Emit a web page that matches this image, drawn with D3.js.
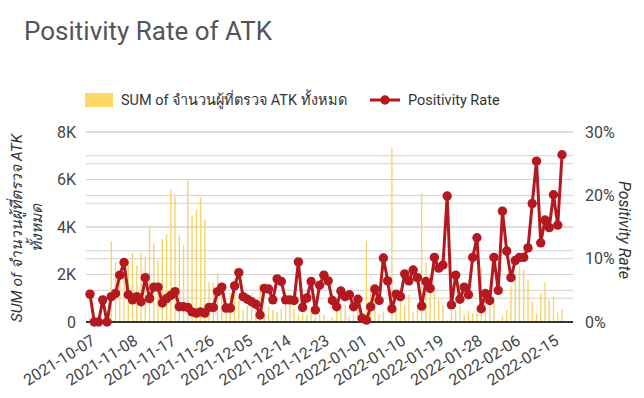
<!DOCTYPE html>
<html><head><meta charset="utf-8">
<script src="https://cdn.jsdelivr.net/npm/d3@7/dist/d3.min.js"></script>
<style>
body{margin:0;background:#fff;}
text{font-family:Roboto,"Noto Sans",sans-serif;}
</style></head>
<body><svg id="c" width="644" height="398"></svg>
<script>
const dates = [
"2021-10-07","2021-10-30","2021-10-31","2021-11-01","2021-11-02","2021-11-03","2021-11-04","2021-11-05","2021-11-06","2021-11-07",
"2021-11-08","2021-11-09","2021-11-10","2021-11-11","2021-11-12","2021-11-13","2021-11-14","2021-11-15","2021-11-16","2021-11-17",
"2021-11-18","2021-11-19","2021-11-20","2021-11-21","2021-11-22","2021-11-23","2021-11-24","2021-11-25","2021-11-26","2021-11-27",
"2021-11-28","2021-11-29","2021-11-30","2021-12-01","2021-12-02","2021-12-03","2021-12-04","2021-12-05","2021-12-06","2021-12-07",
"2021-12-08","2021-12-09","2021-12-10","2021-12-11","2021-12-12","2021-12-13","2021-12-14","2021-12-15","2021-12-16","2021-12-17",
"2021-12-18","2021-12-19","2021-12-20","2021-12-21","2021-12-22","2021-12-23","2021-12-24","2021-12-25","2021-12-26","2021-12-27",
"2021-12-28","2021-12-29","2021-12-30","2021-12-31","2022-01-01","2022-01-02","2022-01-03","2022-01-04","2022-01-05","2022-01-06",
"2022-01-07","2022-01-08","2022-01-09","2022-01-10","2022-01-11","2022-01-12","2022-01-13","2022-01-14","2022-01-15","2022-01-16",
"2022-01-17","2022-01-18","2022-01-19","2022-01-20","2022-01-21","2022-01-22","2022-01-23","2022-01-24","2022-01-25","2022-01-26",
"2022-01-27","2022-01-28","2022-01-29","2022-01-30","2022-01-31","2022-02-01","2022-02-02","2022-02-03","2022-02-04","2022-02-05",
"2022-02-06","2022-02-07","2022-02-08","2022-02-09","2022-02-10","2022-02-11","2022-02-12","2022-02-13","2022-02-14","2022-02-15",
"2022-02-16","2022-02-17"];

const tested = [
150,20,30,100,30,3400,2500,2100,2300,2600,
2900,2400,2900,2750,3950,3300,2600,3500,3700,5600,
5300,3650,3250,5950,4500,4750,5250,4300,1700,1650,
2050,1300,650,1200,1800,900,500,700,1200,650,
1600,300,650,500,430,570,850,780,570,300,
360,300,650,220,360,300,80,200,850,700,
720,220,300,650,220,3420,1560,1350,360,430,
80,7310,500,930,720,1140,430,720,5420,2500,
1950,1250,930,720,80,500,500,720,300,500,
360,400,2300,850,1100,800,80,270,500,1500,
2000,2350,2200,1800,850,360,1200,1670,930,1070,
390,530];

const positivity = [
4.4,0,0,3.5,0,4.0,4.5,7.4,9.4,4.3,
3.5,4.0,3.2,7.0,3.7,5.5,5.5,3.0,3.7,4.2,
4.8,2.4,2.4,2.3,1.6,1.4,1.6,1.4,2.3,2.3,
4.8,5.5,2.2,2.2,5.7,7.8,4.0,3.6,3.2,2.8,
1.1,5.3,5.2,3.5,6.8,6.4,3.5,3.5,3.4,9.5,
2.3,3.8,6.4,1.9,5.8,7.4,6.5,3.4,2.4,4.9,
4.0,4.3,2.4,3.6,0.6,0.3,2.4,5.2,3.4,10.1,
6.5,2.1,4.4,4.0,7.6,6.5,8.2,7.0,2.5,6.4,
5.3,10.2,8.5,9.0,19.9,2.7,7.4,3.6,5.5,4.3,
10.2,13.3,2.1,4.5,3.4,10.2,5.0,17.5,11.2,7.0,
9.7,10.2,10.2,11.7,18.7,25.4,12.5,16.1,14.9,20.1,
15.3,26.4];

const tickDates = ["2021-10-07","2021-11-08","2021-11-17","2021-11-26","2021-12-05","2021-12-14","2021-12-23",
"2022-01-01","2022-01-10","2022-01-19","2022-01-28","2022-02-06","2022-02-15"];
const leftTicks = [0,2000,4000,6000,8000];
const leftMinor = [1000,3000,5000,7000];
const rightTicks = [0,10,20,30];
const rightMinor = [5,15,25];

const title = "Positivity Rate of ATK";
const barName = "SUM of จำนวนผู้ที่ตรวจ ATK ทั้งหมด";
const lineName = "Positivity Rate";

const svg = d3.select("#c");
const X0 = 86, X1 = 573, Y0 = 322, Y1 = 132;
const x = d3.scalePoint().domain(dates).range([90, 562]);
const yL = d3.scaleLinear().domain([0, 8000]).range([Y0, Y1]);
const yR = d3.scaleLinear().domain([0, 30]).range([Y0, Y1]);

svg.append("text").attr("x", 24).attr("y", 40).attr("font-size", 26).attr("fill", "#555").text(title);

// grid
const g = svg.append("g");
leftTicks.concat(leftMinor).forEach(v => {
  if (v === 0) return;
  g.append("line").attr("x1", X0).attr("x2", X1).attr("y1", yL(v)).attr("y2", yL(v))
   .attr("stroke", "#d2d2d2").attr("stroke-width", 1);
});
rightTicks.concat(rightMinor).forEach(v => {
  if (v === 0) return;
  g.append("line").attr("x1", X0).attr("x2", X1).attr("y1", yR(v)).attr("y2", yR(v))
   .attr("stroke", "#d2d2d2").attr("stroke-width", 1);
});

// bars
svg.append("g").selectAll("rect").data(dates).join("rect")
  .attr("x", d => x(d) - 0.7).attr("width", 1.4)
  .attr("y", (d, i) => yL(tested[i])).attr("height", (d, i) => Y0 - yL(tested[i]))
  .attr("fill", "#f6d46c");

// baseline
svg.append("line").attr("x1", X0).attr("x2", X1).attr("y1", Y0).attr("y2", Y0)
  .attr("stroke", "#333").attr("stroke-width", 2);

// line
const red = "#b3191f";
const line = d3.line().x((d, i) => x(dates[i])).y(d => yR(d));
svg.append("path").datum(positivity).attr("d", line).attr("fill", "none")
  .attr("stroke", red).attr("stroke-width", 3).attr("stroke-linejoin", "round");
svg.append("g").selectAll("circle").data(positivity).join("circle")
  .attr("cx", (d, i) => x(dates[i])).attr("cy", d => yR(d)).attr("r", 4.7).attr("fill", red);

// left axis
const axL = svg.append("g").attr("transform", `translate(${X0 - 10},0)`)
  .call(d3.axisLeft(yL).tickValues(leftTicks).tickSize(0).tickPadding(0)
    .tickFormat(d => d === 0 ? "0" : (d / 1000) + "K"));
axL.select(".domain").remove();
axL.selectAll("text").attr("font-size", 16).attr("fill", "#444").attr("font-family", "Roboto");

const axR = svg.append("g").attr("transform", `translate(${X1 + 12},0)`)
  .call(d3.axisRight(yR).tickValues(rightTicks).tickSize(0).tickPadding(0).tickFormat(d => d + "%"));
axR.select(".domain").remove();
axR.selectAll("text").attr("font-size", 16).attr("fill", "#444").attr("font-family", "Roboto");

// x axis labels
const axX = svg.append("g").attr("transform", `translate(0,${Y0 + 12})`)
  .call(d3.axisBottom(x).tickValues(tickDates).tickSize(0).tickPadding(0));
axX.select(".domain").remove();
axX.selectAll("text").attr("font-size", 16).attr("fill", "#444").attr("font-family", "Roboto")
  .attr("text-anchor", "end").attr("dy", "0.7em").attr("dx", "0")
  .attr("transform", "rotate(-32)");

// axis titles
const lt = svg.append("text").attr("transform", "translate(22,228) rotate(-90)")
  .attr("text-anchor", "middle").attr("font-size", 15.5).attr("font-style", "italic").attr("fill", "#333");
lt.append("tspan").attr("x", 0).attr("dy", 0).text("SUM of จำนวนผู้ที่ตรวจ ATK");
lt.append("tspan").attr("x", 0).attr("dy", 20).text("ทั้งหมด");

svg.append("text").attr("transform", "translate(619,230) rotate(90)")
  .attr("text-anchor", "middle").attr("font-size", 16).attr("font-style", "italic").attr("fill", "#333")
  .text(lineName);

// legend
svg.append("rect").attr("x", 85).attr("y", 93).attr("width", 28).attr("height", 14).attr("fill", "#fdd663");
svg.append("text").attr("x", 121).attr("y", 105).attr("font-size", 14.5).attr("fill", "#333").text(barName);
svg.append("line").attr("x1", 370).attr("x2", 400).attr("y1", 100).attr("y2", 100).attr("stroke", red).attr("stroke-width", 3);
svg.append("circle").attr("cx", 385).attr("cy", 100).attr("r", 4.7).attr("fill", red);
svg.append("text").attr("x", 408).attr("y", 105).attr("font-size", 14.5).attr("fill", "#333").text(lineName);
</script></body></html>
